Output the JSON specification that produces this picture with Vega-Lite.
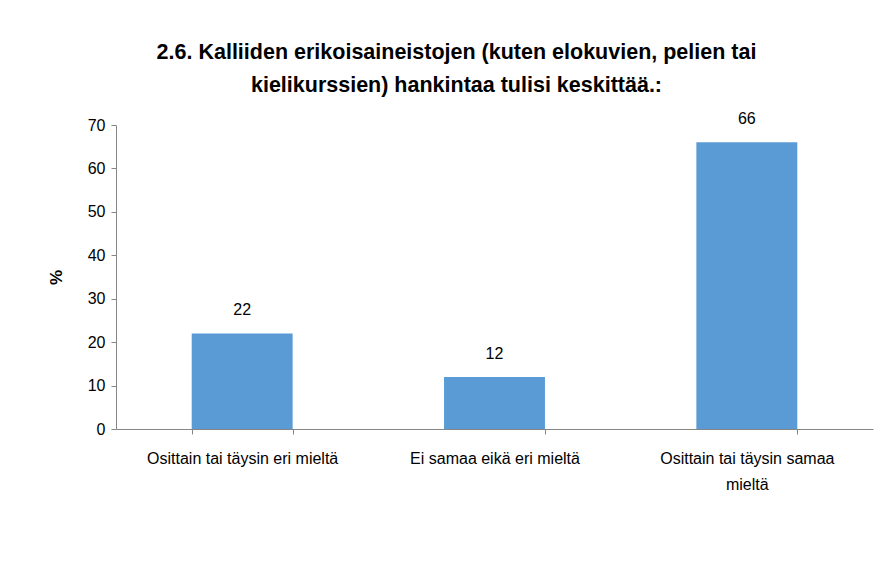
{
  "$schema": "https://vega.github.io/schema/vega-lite/v6.json",
  "autosize": "none",
  "width": 757,
  "height": 304,
  "padding": {"left": 116, "top": 125, "right": 16, "bottom": 133},
  "background": "white",
  "config": {
    "view": {"stroke": null},
    "font": "Liberation Sans"
  },
  "title": {
    "text": ["2.6. Kalliiden erikoisaineistojen (kuten elokuvien, pelien tai", "kielikurssien) hankintaa tulisi keskittää.:"],
    "font": "Liberation Sans",
    "fontSize": 21.5,
    "fontWeight": "bold",
    "color": "#000000",
    "anchor": "middle",
    "dx": -38,
    "offset": 15,
    "lineHeight": 33
  },
  "data": {
    "values": [
      {"category": "Osittain tai täysin eri mieltä", "value": 22},
      {"category": "Ei samaa eikä eri mieltä", "value": 12},
      {"category": "Osittain tai täysin samaa mieltä", "value": 66}
    ]
  },
  "encoding": {
    "x": {
      "field": "category",
      "type": "nominal",
      "sort": null,
      "scale": {"paddingInner": 0.6, "paddingOuter": 0.3},
      "axis": {
        "title": null,
        "labelAngle": 0,
        "labelFont": "Liberation Sans",
        "labelFontSize": 16,
        "labelColor": "#000000",
        "labelPadding": 16,
        "labelLineHeight": 26,
        "labelLimit": 0,
        "labelExpr": "datum.label == 'Osittain tai täysin samaa mieltä' ? ['Osittain tai täysin samaa', 'mieltä'] : datum.label",
        "domainColor": "#868686",
        "tickColor": "#868686",
        "tickBand": "extent",
        "tickSize": 5,
        "grid": false
      }
    },
    "y": {
      "field": "value",
      "type": "quantitative",
      "scale": {"domain": [0, 70]},
      "axis": {
        "title": "%",
        "titleFont": "Liberation Sans",
        "titleFontSize": 17,
        "titleFontWeight": "bold",
        "titleColor": "#000000",
        "titlePadding": 22,
        "values": [0, 10, 20, 30, 40, 50, 60, 70],
        "labelFont": "Liberation Sans",
        "labelFontSize": 16,
        "labelColor": "#000000",
        "labelPadding": 6,
        "domainColor": "#868686",
        "tickColor": "#868686",
        "tickSize": 5,
        "grid": false
      }
    }
  },
  "layer": [
    {"mark": {"type": "bar", "color": "#5B9BD5"}},
    {
      "mark": {"type": "text", "font": "Liberation Sans", "fontSize": 16, "dy": -18, "baseline": "alphabetic", "color": "#000000"},
      "encoding": {"text": {"field": "value", "type": "quantitative"}}
    }
  ]
}
